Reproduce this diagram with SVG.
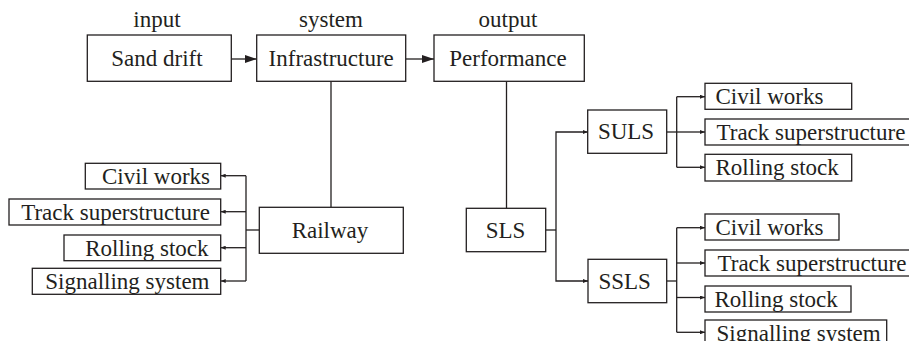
<svg xmlns="http://www.w3.org/2000/svg" width="909" height="341" viewBox="0 0 909 341">
<style>
  .box { fill: #ffffff; stroke: #231f20; stroke-width: 1.3; }
  .t { font-family: 'Liberation Serif', 'DejaVu Serif', serif; font-size: 23px; fill: #231f20; }
  .m { text-anchor: middle; }
  .e { text-anchor: end; }
  .c { fill: none; stroke: #231f20; stroke-width: 1.3; }
</style>
<defs>
  <marker id="big" markerUnits="userSpaceOnUse" markerWidth="12" markerHeight="10" refX="12" refY="5" orient="auto">
    <path d="M0,1 L12,5 L0,9 z" fill="#231f20"/>
  </marker>
  <marker id="small" markerUnits="userSpaceOnUse" markerWidth="5" markerHeight="4" refX="5" refY="2" orient="auto">
    <path d="M0,0 L5,2 L0,4 z" fill="#231f20"/>
  </marker>
</defs>
<rect width="909" height="341" fill="#ffffff"/>

<g id="labels">
  <text class="t m" x="157" y="27">input</text>
  <text class="t m" x="331" y="27">system</text>
  <text class="t m" x="508" y="27">output</text>
</g>

<g id="connectors">
  <line class="c" x1="231.3" y1="59" x2="256.7" y2="59" marker-end="url(#big)"/>
  <line class="c" x1="405.7" y1="59" x2="434" y2="59" marker-end="url(#big)"/>
  <line class="c" x1="331" y1="81.3" x2="331" y2="207.3"/>
  <line class="c" x1="506.5" y1="81.3" x2="506.5" y2="208.3"/>
  <line class="c" x1="259.3" y1="230" x2="246" y2="230"/>
  <line class="c" x1="246" y1="175.7" x2="246" y2="281"/>
  <line class="c" x1="246" y1="175.7" x2="220.7" y2="175.7" marker-end="url(#small)"/>
  <line class="c" x1="246" y1="211.7" x2="220.7" y2="211.7" marker-end="url(#small)"/>
  <line class="c" x1="246" y1="247.7" x2="220.7" y2="247.7" marker-end="url(#small)"/>
  <line class="c" x1="246" y1="281" x2="220.7" y2="281" marker-end="url(#small)"/>
  <line class="c" x1="545.7" y1="230" x2="556" y2="230"/>
  <polyline class="c" points="556,230 556,132 587.7,132" marker-end="url(#small)"/>
  <polyline class="c" points="556,230 556,281 588,281" marker-end="url(#small)"/>
  <line class="c" x1="666.7" y1="132" x2="676.7" y2="132"/>
  <line class="c" x1="676.7" y1="96.7" x2="676.7" y2="167.3"/>
  <line class="c" x1="676.7" y1="96.7" x2="705" y2="96.7" marker-end="url(#small)"/>
  <line class="c" x1="676.7" y1="132" x2="705" y2="132" marker-end="url(#small)"/>
  <line class="c" x1="676.7" y1="167.3" x2="705" y2="167.3" marker-end="url(#small)"/>
  <line class="c" x1="666.7" y1="281" x2="676.7" y2="281"/>
  <line class="c" x1="676.7" y1="227.7" x2="676.7" y2="332.3"/>
  <line class="c" x1="676.7" y1="227.7" x2="705" y2="227.7" marker-end="url(#small)"/>
  <line class="c" x1="676.7" y1="263" x2="705" y2="263" marker-end="url(#small)"/>
  <line class="c" x1="676.7" y1="297.5" x2="705" y2="297.5" marker-end="url(#small)"/>
  <line class="c" x1="676.7" y1="332.3" x2="705" y2="332.3" marker-end="url(#small)"/>
</g>

<g id="sand-drift">
  <rect class="box" x="87.3" y="35" width="144" height="46.3"/>
  <text class="t m" x="157" y="65.6">Sand drift</text>
</g>
<g id="infrastructure">
  <rect class="box" x="256.7" y="35" width="149" height="46.3"/>
  <text class="t m" x="331.2" y="65.6">Infrastructure</text>
</g>
<g id="performance">
  <rect class="box" x="434" y="35" width="150.3" height="46.3"/>
  <text class="t m" x="508" y="65.6">Performance</text>
</g>
<g id="railway">
  <rect class="box" x="259.3" y="207.3" width="144" height="46"/>
  <text class="t m" x="330" y="238">Railway</text>
</g>
<g id="rw-civil">
  <rect class="box" x="85.3" y="163.3" width="135.4" height="25.7"/>
  <text class="t e" x="210" y="183.8">Civil works</text>
</g>
<g id="rw-track">
  <rect class="box" x="9" y="199" width="211.7" height="26"/>
  <text class="t e" x="210" y="219.6">Track superstructure</text>
</g>
<g id="rw-rolling">
  <rect class="box" x="64" y="235" width="156.7" height="25.7"/>
  <text class="t e" x="208.5" y="255.5">Rolling stock</text>
</g>
<g id="rw-signalling">
  <rect class="box" x="32.3" y="268.3" width="188.4" height="26"/>
  <text class="t e" x="209.5" y="288.9">Signalling system</text>
</g>
<g id="sls">
  <rect class="box" x="466.3" y="208.3" width="79.4" height="43.4"/>
  <text class="t m" x="505.5" y="237.6">SLS</text>
</g>
<g id="suls">
  <rect class="box" x="587.7" y="110" width="79" height="43.3"/>
  <text class="t m" x="626" y="139.3">SULS</text>
</g>
<g id="ssls">
  <rect class="box" x="588" y="259.3" width="78.7" height="43.4"/>
  <text class="t m" x="624.7" y="288.6">SSLS</text>
</g>
<g id="suls-civil">
  <rect class="box" x="705" y="83.3" width="146.7" height="26"/>
  <text class="t" x="715.5" y="104">Civil works</text>
</g>
<g id="suls-track">
  <rect class="box" x="705" y="119" width="208" height="26"/>
  <text class="t" x="716.5" y="139.6">Track superstructure</text>
</g>
<g id="suls-rolling">
  <rect class="box" x="705" y="154.3" width="146.7" height="26.7"/>
  <text class="t" x="715.5" y="175.3">Rolling stock</text>
</g>
<g id="ssls-civil">
  <rect class="box" x="705" y="214" width="134" height="26"/>
  <text class="t" x="715.5" y="234.6">Civil works</text>
</g>
<g id="ssls-track">
  <rect class="box" x="705" y="250" width="208" height="26"/>
  <text class="t" x="717.5" y="270.6">Track superstructure</text>
</g>
<g id="ssls-rolling">
  <rect class="box" x="705" y="286" width="146" height="26"/>
  <text class="t" x="714.5" y="306.6">Rolling stock</text>
</g>
<g id="ssls-signalling">
  <rect class="box" x="705" y="320" width="181.7" height="26"/>
  <text class="t" x="716.5" y="340.6">Signalling system</text>
</g>
</svg>
